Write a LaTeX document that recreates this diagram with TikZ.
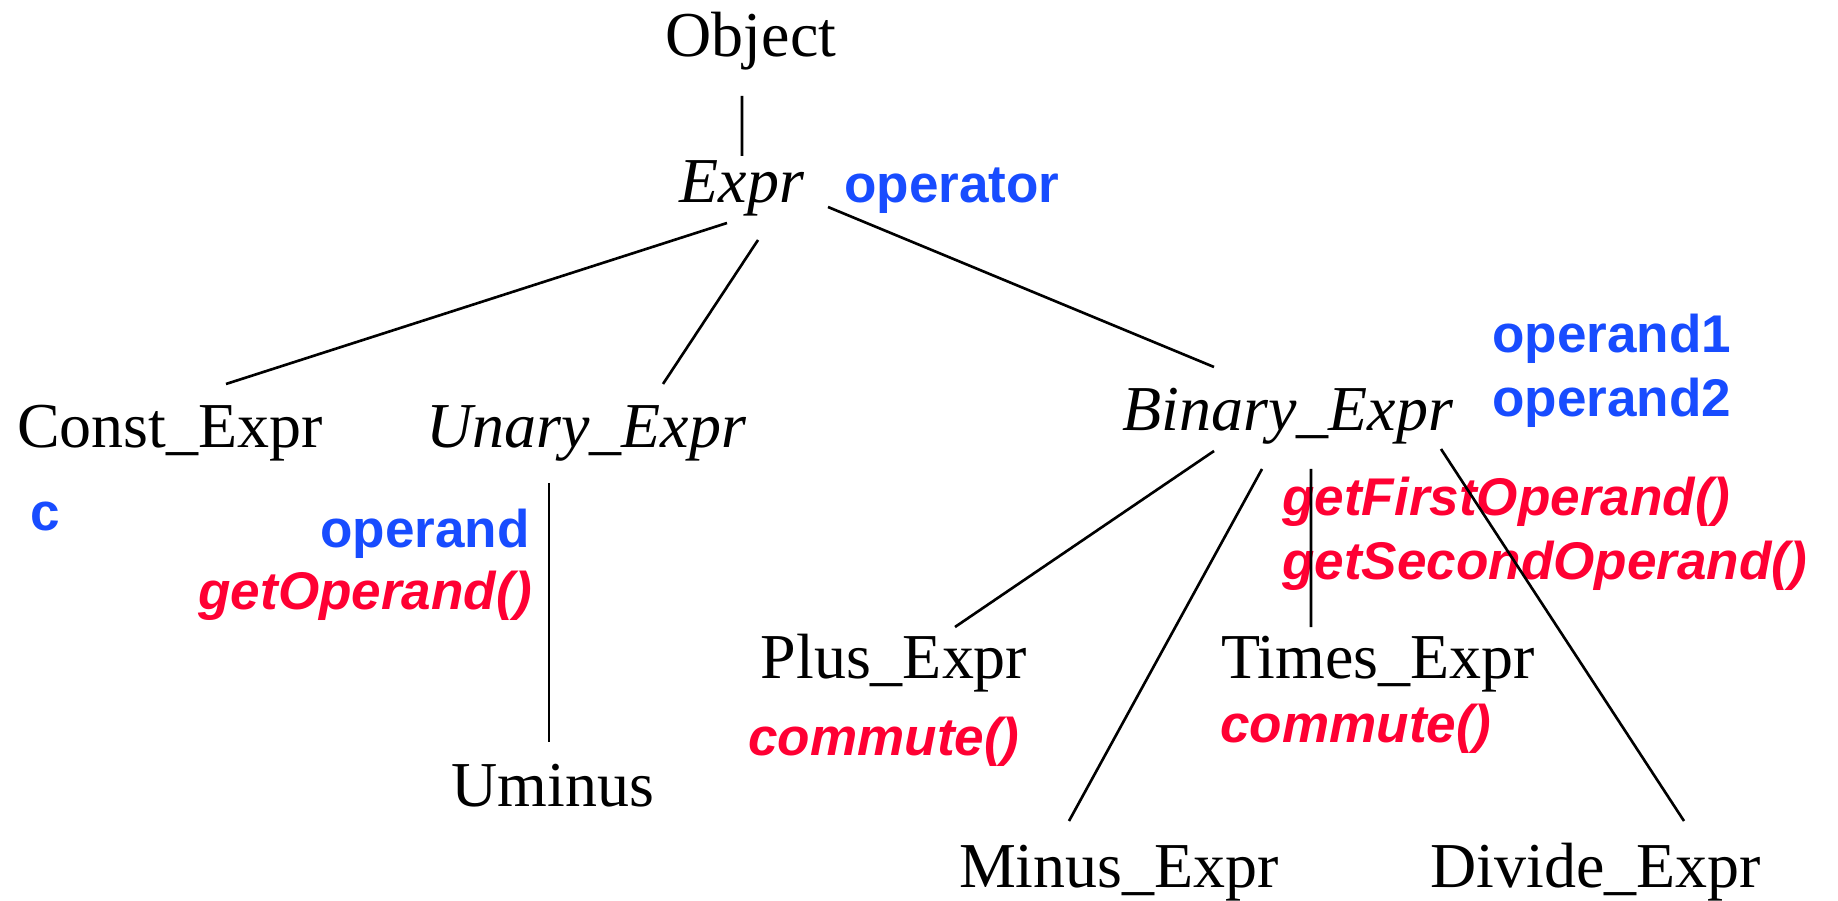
\documentclass[tikz,border=0pt]{standalone}
\usepackage{fontspec}
\setmainfont{Liberation Serif}
\setsansfont{Liberation Sans}
\definecolor{fieldblue}{RGB}{24,76,255}
\definecolor{methodred}{RGB}{255,0,51}
\begin{document}
\begin{tikzpicture}[
  cls/.style = {anchor=base, inner sep=0pt, font=\fontsize{18.2}{22}\selectfont},
  abstract/.style = {cls, font=\fontsize{18.2}{22}\selectfont\itshape},
  field/.style = {inner sep=0pt, text=fieldblue, font=\fontsize{15.1}{18}\sffamily\bfseries},
  method/.style = {field, text=methodred, font=\fontsize{15.1}{18}\sffamily\bfseries\itshape},
  line width = 0.75pt,
  ]
  \useasboundingbox (0,0) rectangle (18.38,9);
  % classes
  \node [cls]      (object) at (7.51,8.43) {Object};
  \node [abstract] (expr)   at (7.42,6.97) {Expr};
  \node [cls]      (const)  at (1.70,4.52) {Const\_Expr};
  \node [abstract] (unary)  at (5.86,4.52) {Unary\_Expr};
  \node [abstract] (binary) at (12.88,4.69) {Binary\_Expr};
  \node [cls]      (uminus) at (5.53,0.94) {Uminus};
  \node [cls]      (plus)   at (8.94,2.22) {Plus\_Expr};
  \node [cls]      (times)  at (13.78,2.22) {Times\_Expr};
  \node [cls]      (minus)  at (11.19,0.13) {Minus\_Expr};
  \node [cls]      (divide) at (15.96,0.13) {Divide\_Expr};
  % fields and methods
  \node [field, anchor=base west]  (operator) at (8.43,6.97) {operator};
  \node [field, anchor=base west]  (c)        at (0.29,3.69) {c};
  \node [field, anchor=base east]  (operand)  at (5.31,3.53) {operand};
  \node [method, anchor=base east] (getop)    at (5.33,2.90) {getOperand()};
  \node [field, anchor=base west]  (operand1) at (14.91,5.48) {operand1};
  \node [field, anchor=base west]  (operand2) at (14.91,4.84) {operand2};
  \node [method, anchor=base west] (getfirst)  at (12.81,3.84) {getFirstOperand()};
  \node [method, anchor=base west] (getsecond) at (12.81,3.20) {getSecondOperand()};
  \node [method]                   (commplus)  at (8.84,1.58) {commute()};
  \node [method, anchor=base west] (commtimes) at (12.19,1.57) {commute()};
  % inheritance
  \draw ([shift={(-0.09,-0.39)}]object.base) -- ([shift={(0,0.47)}]expr.base);
  \draw ([shift={(-0.15,-0.20)}]expr.base) -- ([shift={(0.56,0.64)}]const.base);
  \draw ([shift={(0.16,-0.37)}]expr.base) -- ([shift={(0.77,0.64)}]unary.base);
  \draw ([shift={(0.86,-0.04)}]expr.base) -- ([shift={(-0.74,0.64)}]binary.base);
  \draw ([shift={(-0.37,-0.35)}]unary.base) -- ([shift={(-0.04,0.64)}]uminus.base);
  \draw ([shift={(-0.74,-0.20)}]binary.base) -- ([shift={(0.61,0.51)}]plus.base);
  \draw ([shift={(-0.26,-0.38)}]binary.base) -- ([shift={(-0.50,0.66)}]minus.base);
  \draw ([shift={(0.23,-0.38)}]binary.base) -- ([shift={(-0.67,0.51)}]times.base);
  \draw ([shift={(1.53,-0.18)}]binary.base) -- ([shift={(0.88,0.66)}]divide.base);
\end{tikzpicture}
\end{document}
